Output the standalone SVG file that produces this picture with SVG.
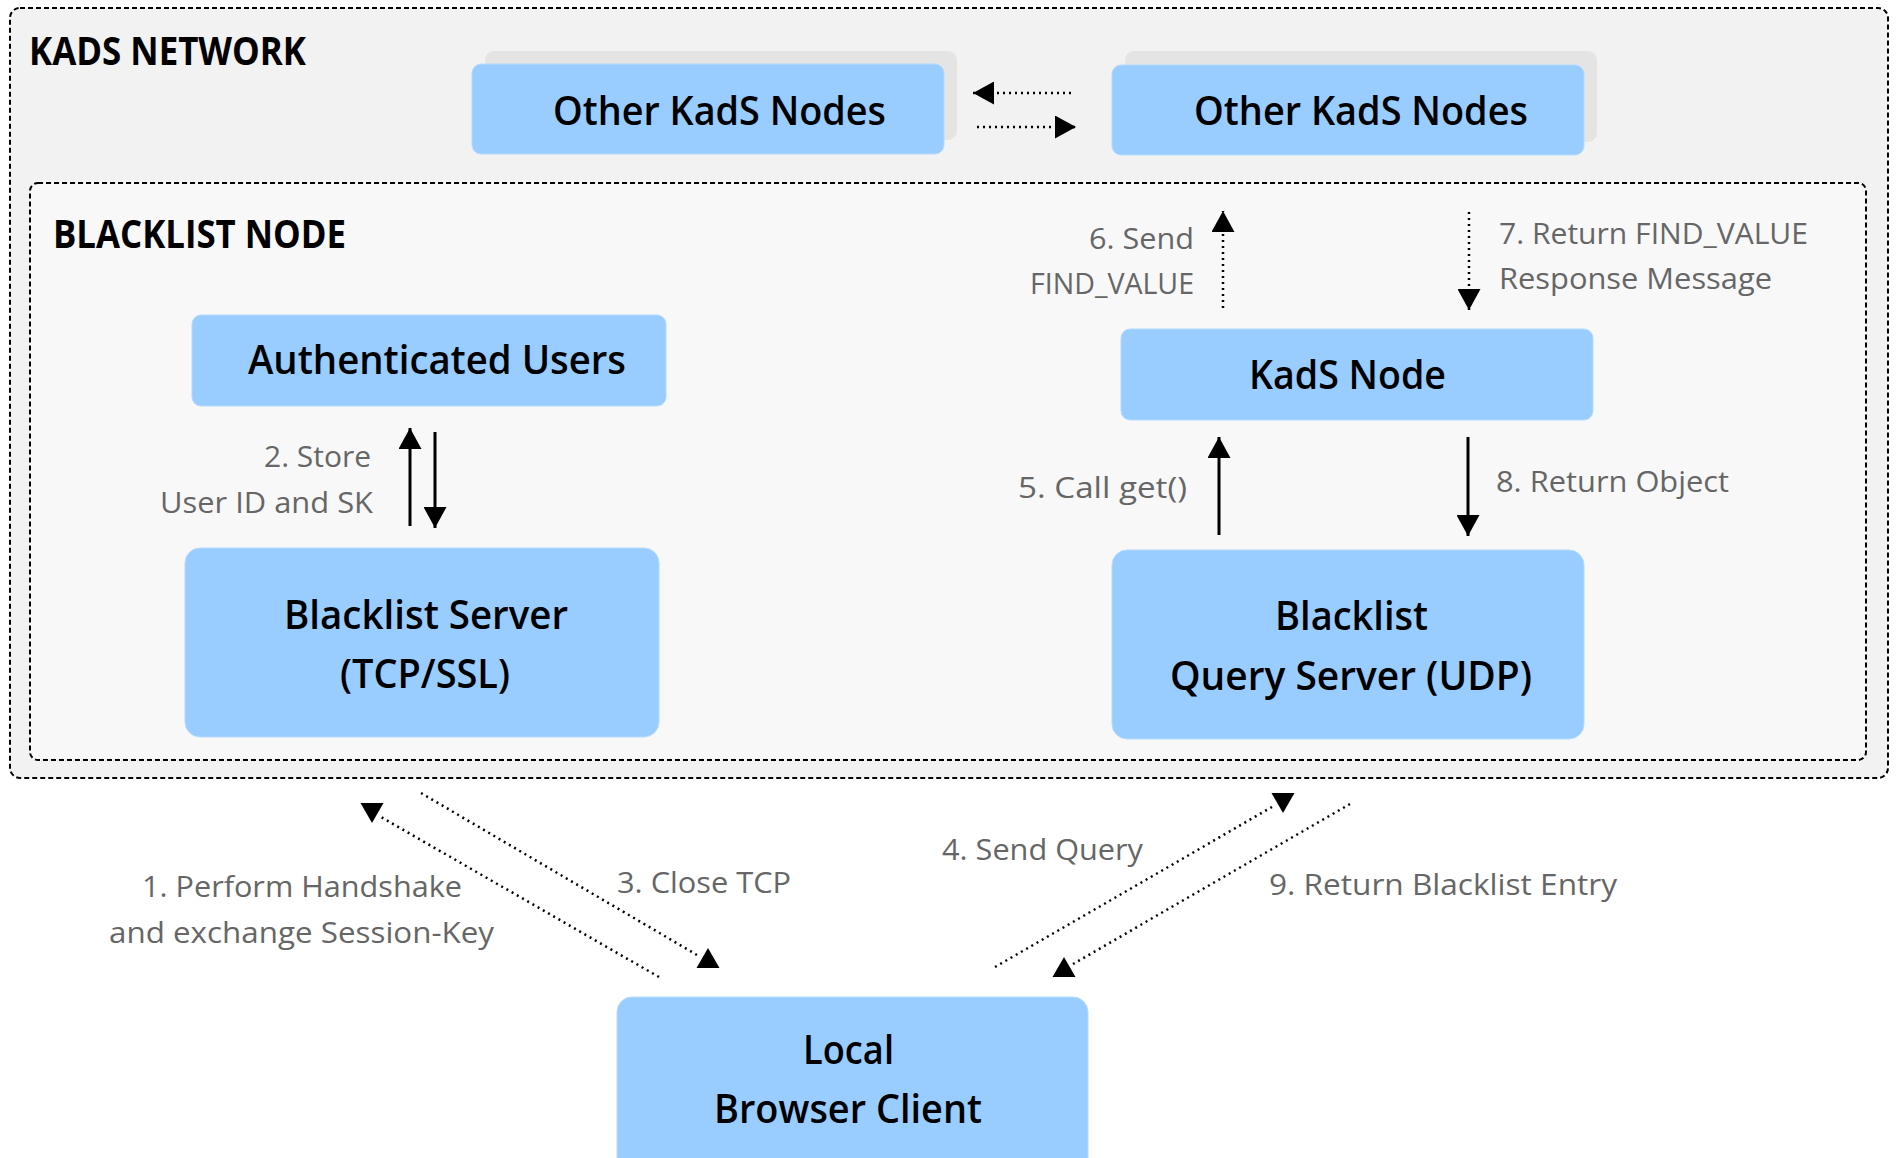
<svg xmlns="http://www.w3.org/2000/svg" xmlns:xlink="http://www.w3.org/1999/xlink" width="1896" height="1158" viewBox="0 0 1896 1158">
<style>
.outer{fill:#f2f2f2;stroke:#000;stroke-width:2;stroke-dasharray:5 3}
.inner{fill:#f8f8f8;stroke:#000;stroke-width:2;stroke-dasharray:5 3}
.node{fill:#99ccff;stroke:#b5dbff;stroke-width:1}
.shadow{fill:#e4e4e4}
.title{font-family:"Open Sans","Noto Sans",sans-serif;font-weight:700;font-size:40px;fill:#000}
.nt{font-family:"Open Sans","Noto Sans",sans-serif;font-weight:600;font-size:39px;fill:#000}
.lbl{font-family:"Open Sans","Noto Sans",sans-serif;font-weight:400;font-size:29px;fill:#666}
.solid{stroke:#000;stroke-width:3;fill:none}
.dot{stroke:#000;stroke-width:2.5;stroke-dasharray:2 4;fill:none}
.head{fill:#000}
</style>
<defs>
<marker id="arr" viewBox="0 0 21 23" refX="21" refY="11.5" markerWidth="21" markerHeight="23" markerUnits="userSpaceOnUse" orient="auto"><path d="M0,0 L21,11.5 L0,23 Z" fill="#000"/></marker>
<path id="tdown" d="M-11.5,-20 L11.5,-20 L0,0 Z"/>
<path id="tup" d="M-11.5,20 L11.5,20 L0,0 Z"/>
</defs>

<g id="kads-network">
<rect class="outer" x="10" y="8" width="1878" height="770" rx="10"/>
<text class="title" x="29" y="65" textLength="277" lengthAdjust="spacingAndGlyphs">KADS NETWORK</text>
</g>

<g id="other-kads-left">
<rect class="shadow" x="485" y="51" width="472" height="89" rx="9"/>
<rect class="node" x="472" y="64" width="472" height="90" rx="9"/>
<text class="nt" x="553" y="125" textLength="333" lengthAdjust="spacingAndGlyphs">Other KadS Nodes</text>
</g>

<g id="other-kads-right">
<rect class="shadow" x="1125" y="51" width="472" height="91" rx="9"/>
<rect class="node" x="1112" y="65" width="472" height="90" rx="9"/>
<text class="nt" x="1194" y="125" textLength="334" lengthAdjust="spacingAndGlyphs">Other KadS Nodes</text>
</g>

<g id="blacklist-node">
<rect class="inner" x="30" y="183" width="1836" height="577" rx="8"/>
<text class="title" x="53" y="248" textLength="293" lengthAdjust="spacingAndGlyphs">BLACKLIST NODE</text>
</g>

<g id="authenticated-users">
<rect class="node" x="192" y="315" width="474" height="91" rx="9"/>
<text class="nt" x="248" y="374" textLength="378" lengthAdjust="spacingAndGlyphs">Authenticated Users</text>
</g>

<g id="blacklist-server">
<rect class="node" x="185" y="548" width="474" height="189" rx="15"/>
<text class="nt" x="284" y="629" textLength="284" lengthAdjust="spacingAndGlyphs">Blacklist Server</text>
<text class="nt" x="340" y="688" textLength="170" lengthAdjust="spacingAndGlyphs">(TCP/SSL)</text>
</g>

<g id="kads-node">
<rect class="node" x="1121" y="329" width="472" height="91" rx="9"/>
<text class="nt" x="1249" y="389" textLength="197" lengthAdjust="spacingAndGlyphs">KadS Node</text>
</g>

<g id="blacklist-query-server">
<rect class="node" x="1112" y="550" width="472" height="189" rx="15"/>
<text class="nt" x="1275" y="630" textLength="153" lengthAdjust="spacingAndGlyphs">Blacklist</text>
<text class="nt" x="1170" y="690" textLength="362" lengthAdjust="spacingAndGlyphs">Query Server (UDP)</text>
</g>

<g id="local-browser-client">
<rect class="node" x="617" y="997" width="471" height="190" rx="15"/>
<text class="nt" x="803" y="1064" textLength="91" lengthAdjust="spacingAndGlyphs">Local</text>
<text class="nt" x="714" y="1123" textLength="268" lengthAdjust="spacingAndGlyphs">Browser Client</text>
</g>

<g id="connectors">
<line class="dot" x1="1071" y1="93" x2="973" y2="93" marker-end="url(#arr)"/>
<line class="dot" x1="977" y1="127" x2="1076" y2="127" marker-end="url(#arr)"/>

<line class="solid" x1="410" y1="526" x2="410" y2="428" marker-end="url(#arr)"/>
<line class="solid" x1="435" y1="432" x2="435" y2="528" marker-end="url(#arr)"/>
<text class="lbl" x="264" y="467" textLength="107" lengthAdjust="spacingAndGlyphs">2. Store</text>
<text class="lbl" x="160" y="513" textLength="213" lengthAdjust="spacingAndGlyphs">User ID and SK</text>

<line class="dot" x1="1223" y1="308" x2="1223" y2="211" marker-end="url(#arr)"/>
<text class="lbl" x="1089" y="249" textLength="105" lengthAdjust="spacingAndGlyphs">6. Send</text>
<text class="lbl" x="1030" y="294" textLength="164" lengthAdjust="spacingAndGlyphs">FIND_VALUE</text>

<line class="dot" x1="1469" y1="212" x2="1469" y2="310" marker-end="url(#arr)"/>
<text class="lbl" x="1499" y="244" textLength="309" lengthAdjust="spacingAndGlyphs">7. Return FIND_VALUE</text>
<text class="lbl" x="1499" y="289" textLength="273" lengthAdjust="spacingAndGlyphs">Response Message</text>

<line class="solid" x1="1219" y1="535" x2="1219" y2="437" marker-end="url(#arr)"/>
<text class="lbl" x="1018" y="498" textLength="169" lengthAdjust="spacingAndGlyphs">5. Call get()</text>

<line class="solid" x1="1468" y1="437" x2="1468" y2="536" marker-end="url(#arr)"/>
<text class="lbl" x="1496" y="492" textLength="233" lengthAdjust="spacingAndGlyphs">8. Return Object</text>

<line class="dot" x1="659" y1="977" x2="381" y2="817"/>
<use href="#tdown" xlink:href="#tdown" class="head" x="372" y="823"/>
<text class="lbl" x="142" y="897" textLength="320" lengthAdjust="spacingAndGlyphs">1. Perform Handshake</text>
<text class="lbl" x="109" y="943" textLength="385" lengthAdjust="spacingAndGlyphs">and exchange Session-Key</text>

<line class="dot" x1="421" y1="793" x2="697" y2="955"/>
<use href="#tup" xlink:href="#tup" class="head" x="708" y="948"/>
<text class="lbl" x="617" y="893" textLength="174" lengthAdjust="spacingAndGlyphs">3. Close TCP</text>

<line class="dot" x1="995" y1="967" x2="1272" y2="807"/>
<use href="#tdown" xlink:href="#tdown" class="head" x="1283" y="813"/>
<text class="lbl" x="942" y="860" textLength="201" lengthAdjust="spacingAndGlyphs">4. Send Query</text>

<line class="dot" x1="1350" y1="804" x2="1073" y2="964"/>
<use href="#tup" xlink:href="#tup" class="head" x="1064" y="957"/>
<text class="lbl" x="1269" y="895" textLength="348" lengthAdjust="spacingAndGlyphs">9. Return Blacklist Entry</text>
</g>
</svg>
